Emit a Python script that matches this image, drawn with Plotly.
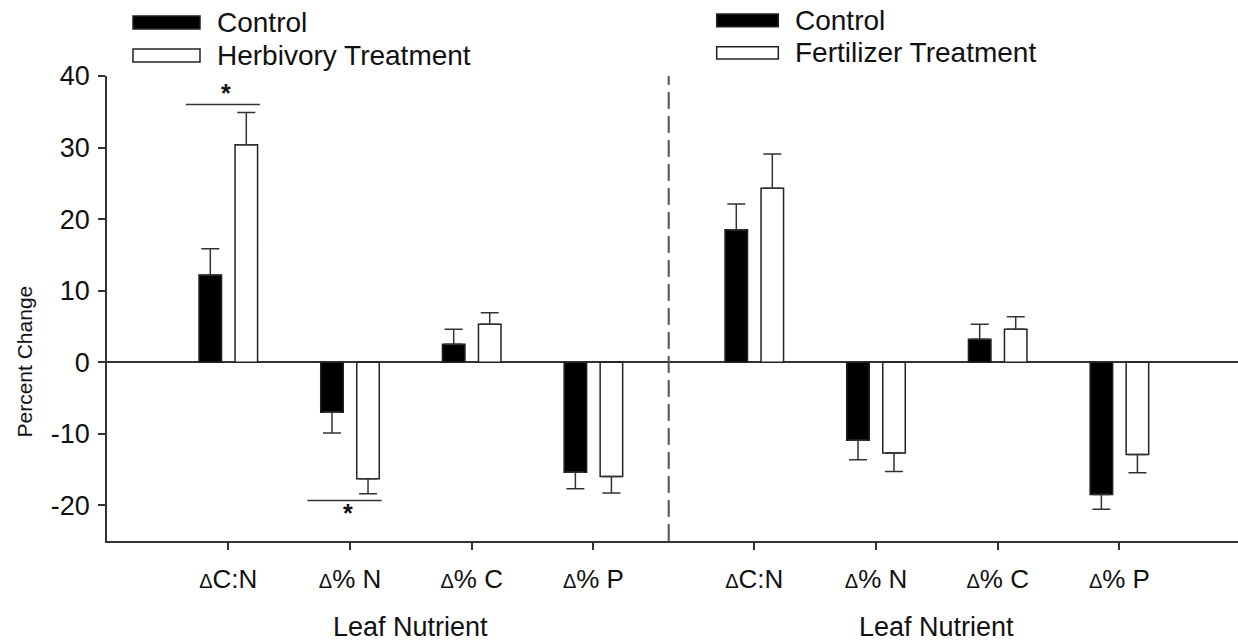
import plotly.graph_objects as go

# Leaf nutrient response data (percent change, mean and SE)
nutrients = ["ΔC:N", "Δ% N", "Δ% C", "Δ% P"]

herb_control = [12.2, -7.0, 2.5, -15.4]
herb_control_se = [3.65, 2.9, 2.1, 2.3]
herb_treatment = [30.4, -16.3, 5.3, -16.0]
herb_treatment_se = [4.5, 2.1, 1.6, 2.3]

fert_control = [18.5, -10.9, 3.2, -18.5]
fert_control_se = [3.6, 2.75, 2.1, 2.05]
fert_treatment = [24.3, -12.7, 4.6, -12.9]
fert_treatment_se = [4.8, 2.6, 1.75, 2.55]

# significant differences in the herbivory panel (category index)
herb_significant = [0, 1]

y_ticks = [-20, -10, 0, 10, 20, 30, 40]
y_tick_labels = ["-20", "-10", "0", "10", "20", "30", "40"]

FONT = "Liberation Sans, Arial, sans-serif"
W, H = 1238, 643
ML, MR, MT, MB = 107, 0, 76, 102
PW, PH = W - ML - MR, H - MT - MB
SPLIT = 668.7  # pixel position of the panel divider


def px(xp):
    return (xp - ML) / PW


def py(yp):
    return (H - MB - yp) / PH


def tick_text(label):
    return label.replace("Δ", "<span style='font-size:20px'>Δ</span>")


def one_sided(values, errors):
    up = [e if v >= 0 else 0 for v, e in zip(values, errors)]
    down = [e if v < 0 else 0 for v, e in zip(values, errors)]
    return up, down


fig = go.Figure()


def add_bars(values, errors, fill, xaxis):
    up, down = one_sided(values, errors)
    fig.add_trace(go.Bar(
        x=nutrients, y=values, xaxis=xaxis, yaxis="y",
        marker=dict(color=fill, line=dict(color="#222222", width=1.5)),
        error_y=dict(type="data", symmetric=False, array=up, arrayminus=down,
                     color="#333333", thickness=1.5, width=9),
        showlegend=False, hoverinfo="x+y",
    ))


add_bars(herb_control, herb_control_se, "#000000", "x")
add_bars(herb_treatment, herb_treatment_se, "#ffffff", "x")
add_bars(fert_control, fert_control_se, "#000000", "x2")
add_bars(fert_treatment, fert_treatment_se, "#ffffff", "x2")

spacing = 121.7
d = px(SPLIT)
left_first = 228.3
right_first = 754.3

xaxis_common = dict(
    type="category", showline=True, linecolor="#333333", linewidth=1.5,
    ticks="outside", ticklen=7, tickwidth=1.5, tickcolor="#333333",
    tickfont=dict(family=FONT, size=26, color="#111111"),
    tickvals=nutrients, ticktext=[tick_text(n) for n in nutrients],
    ticklabelstandoff=7,
    showgrid=False, zeroline=False, fixedrange=True,
)

fig.update_layout(
    width=W, height=H,
    margin=dict(l=ML, r=MR, t=MT, b=MB),
    paper_bgcolor="white", plot_bgcolor="white",
    barmode="group", bargap=0.408, bargroupgap=0.375,
    xaxis=dict(domain=[0, d], anchor="y",
               range=[(ML - left_first) / spacing, (SPLIT - left_first) / spacing],
               **xaxis_common),
    xaxis2=dict(domain=[d, 1], anchor="y",
                range=[(SPLIT - right_first) / spacing, (W - right_first) / spacing],
                **xaxis_common),
    yaxis=dict(range=[-25, 40], tickvals=y_ticks, ticktext=y_tick_labels,
               showline=True, linecolor="#333333", linewidth=1.5,
               ticks="outside", ticklen=7, tickwidth=1.5, tickcolor="#333333",
               tickfont=dict(family=FONT, size=27, color="#111111"),
               ticklabelstandoff=3,
               showgrid=False, zeroline=True, zerolinecolor="#333333",
               zerolinewidth=1.5, fixedrange=True),
    font=dict(family=FONT, color="#111111"),
)

# panel divider
fig.add_shape(type="line", xref="paper", yref="paper", x0=d, x1=d, y0=0, y1=1,
              line=dict(color="#555555", width=2, dash="17px,7px"))

# significance brackets
herb_tops_up = [v + e for v, e in zip(herb_treatment, herb_treatment_se)]
herb_tops_down = [v - e for v, e in zip(herb_treatment, herb_treatment_se)]
for i in herb_significant:
    if herb_treatment[i] >= 0:
        line_y = herb_tops_up[i] + 1.1
        star_y = line_y + 1.6
    else:
        line_y = herb_tops_down[i] - 0.95
        star_y = line_y - 1.7
    fig.add_shape(type="line", xref="x", yref="y", x0=i - 0.35, x1=i + 0.26,
                  y0=line_y, y1=line_y, line=dict(color="#333333", width=1.5))
    fig.add_annotation(x=i - 0.02, y=star_y, xref="x", yref="y", text="<b>*</b>",
                       showarrow=False, yanchor="middle",
                       font=dict(family=FONT, size=25, color="#111111"))

# axis titles
for xa in ("x", "x2"):
    fig.add_annotation(x=(len(nutrients) - 1) / 2, y=py(627), xref=xa, yref="paper",
                       text="Leaf Nutrient", showarrow=False, yanchor="middle",
                       font=dict(family=FONT, size=27, color="#111111"))
fig.add_annotation(x=px(24), y=py(361.5), xref="paper", yref="paper",
                   text="Percent Change", textangle=-90, showarrow=False,
                   xanchor="center", yanchor="middle",
                   font=dict(family=FONT, size=21, color="#111111"))

# legends
legend_items = [
    (133, 200, 16, 29, "#000000", 215, 23, "Control"),
    (133, 200, 49, 62, "#ffffff", 215, 55, "Herbivory Treatment"),
    (716.7, 778.3, 14, 26.7, "#000000", 793, 20, "Control"),
    (716.7, 778.3, 46.7, 59, "#ffffff", 793, 52, "Fertilizer Treatment"),
]
for x0, x1, y0, y1, fill, tx, ty, label in legend_items:
    fig.add_shape(type="rect", xref="paper", yref="paper",
                  x0=px(x0), x1=px(x1), y0=py(y1), y1=py(y0),
                  fillcolor=fill, line=dict(color="#222222", width=1.5))
    fig.add_annotation(x=px(tx), y=py(ty), xref="paper", yref="paper", text=label,
                       showarrow=False, xanchor="left", yanchor="middle",
                       font=dict(family=FONT, size=28, color="#111111"))

fig.write_html("out.html")
